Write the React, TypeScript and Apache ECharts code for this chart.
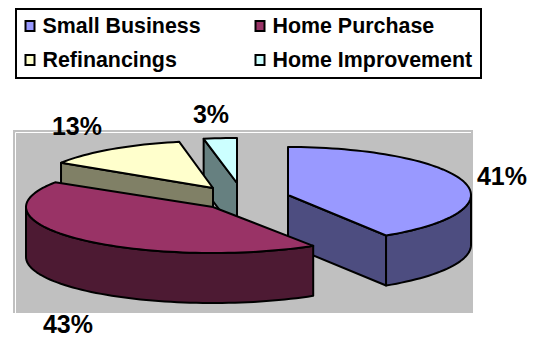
import React, { useEffect, useRef } from "react";
import * as echarts from "echarts";

// Loan purpose shares, in percent
const categories = ["Small Business", "Home Purchase", "Refinancings", "Home Improvement"];
const shares = [41, 43, 13, 3];

const FONT = '"Liberation Sans", Arial, sans-serif';
const topColors = ["#9999FF", "#993366", "#FFFFCC", "#CCFFFF"];
const wallColors = ["#4D4D80", "#4D1A33", "#808066", "#668080"];

// Exploded hub of each wedge, with its projected radii; the wedges further back look a little smaller
const wedges = [
  { cx: 288, cy: 195, rx: 183, ry: 48, z: 5, label: [502, 175.5] },
  { cx: 213, cy: 207, rx: 187, ry: 46, z: 6, label: [68, 324] },
  { cx: 213, cy: 188, rx: 180, ry: 47, z: 4, label: [77, 126] },
  { cx: 237, cy: 183, rx: 178, ry: 45, z: 3, label: [211, 114] },
];
const DEPTH = 50;
const total = shares.reduce((a, b) => a + b, 0);

function renderWedge(index: number) {
  return (_params: any, api: any) => {
    const value = api.value(0);
    const before = shares.slice(0, index).reduce((a, b) => a + b, 0);
    const start = (before / total) * Math.PI * 2;
    const end = ((before + value) / total) * Math.PI * 2;
    const w = wedges[index];
    const at = (a: number, drop = 0) => [
      w.cx + w.rx * Math.sin(a),
      w.cy - w.ry * Math.cos(a) + drop,
    ];
    const sweep = (from: number, to: number, drop = 0) => {
      const n = Math.max(2, Math.ceil(((to - from) * 180) / Math.PI / 2));
      const pts: number[][] = [];
      for (let i = 0; i <= n; i++) pts.push(at(from + ((to - from) * i) / n, drop));
      return pts;
    };
    const hub = [w.cx, w.cy];
    const hubLow = [w.cx, w.cy + DEPTH];
    const edge = { stroke: "#000", lineWidth: 2, lineJoin: "round" };
    const wall = { ...edge, fill: wallColors[index] };
    const children: any[] = [];

    // Radial walls that turn towards the viewer
    if (Math.sin(start) < -1e-6) {
      children.push({
        type: "polygon",
        shape: { points: [hub, at(start), at(start, DEPTH), hubLow] },
        style: wall,
      });
    }
    if (Math.sin(end) > 1e-6) {
      children.push({
        type: "polygon",
        shape: { points: [hub, at(end), at(end, DEPTH), hubLow] },
        style: wall,
      });
    }
    // Rim: only the part of the arc on the near half of the ellipse
    const rimFrom = Math.max(start, Math.PI / 2);
    const rimTo = Math.min(end, (Math.PI * 3) / 2);
    if (rimTo > rimFrom) {
      children.push({
        type: "polygon",
        shape: {
          points: [...sweep(rimFrom, rimTo), ...sweep(rimFrom, rimTo, DEPTH).reverse()],
        },
        style: wall,
      });
    }
    // Top face
    children.push({
      type: "polygon",
      shape: { points: [hub, ...sweep(start, end)] },
      style: { ...edge, fill: topColors[index] },
    });
    // Percentage label
    children.push({
      type: "text",
      z2: 100,
      style: {
        x: w.label[0],
        y: w.label[1],
        text: `${value}%`,
        fill: "#000",
        font: `bold 25px ${FONT}`,
        textAlign: "center",
        textVerticalAlign: "middle",
      },
    });
    return { type: "group", children };
  };
}

export default function App() {
  const ref = useRef<HTMLDivElement>(null);
  useEffect(() => {
    const chart = echarts.init(ref.current!, null, { renderer: "svg" });
    chart.setOption({
      animation: false,
      backgroundColor: "#fff",
      legend: {
        left: 24.5,
        top: 10,
        padding: 0,
        width: 470,
        itemWidth: 9,
        itemHeight: 10,
        itemGap: 2,
        icon: "rect",
        selectedMode: false,
        textStyle: {
          fontFamily: FONT,
          fontWeight: "bold",
          fontSize: 21.4,
          color: "#000",
          width: 210,
          lineHeight: 32,
          height: 32,
          padding: [0, 0, 0, 3],
        },
        data: categories.map((name, i) => ({
          name,
          itemStyle: { color: topColors[i], borderColor: "#000", borderWidth: 2 },
        })),
      },
      graphic: [
        {
          type: "rect",
          z: -2,
          shape: { x: 16, y: 9, width: 465, height: 69 },
          style: { fill: "#fff", stroke: "#000", lineWidth: 2 },
          silent: true,
        },
        {
          type: "rect",
          z: -2,
          shape: { x: 13, y: 130, width: 460, height: 183 },
          style: { fill: "#C0C0C0" },
          silent: true,
        },
        {
          type: "polyline",
          z: -1,
          shape: { points: [[15.5, 313], [15.5, 132.5], [471, 132.5]] },
          style: { stroke: "#fff", lineWidth: 1, fill: "none" },
          silent: true,
        },
      ],
      series: categories.map((name, i) => ({
        type: "custom",
        name,
        coordinateSystem: "none",
        z: wedges[i].z,
        itemStyle: { color: topColors[i] },
        renderItem: renderWedge(i),
        data: [[shares[i]]],
      })),
    });
    return () => chart.dispose();
  }, []);
  return <div ref={ref} style={{ width: 535, height: 337, position: "absolute", left: 0, top: 0 }} />;
}
